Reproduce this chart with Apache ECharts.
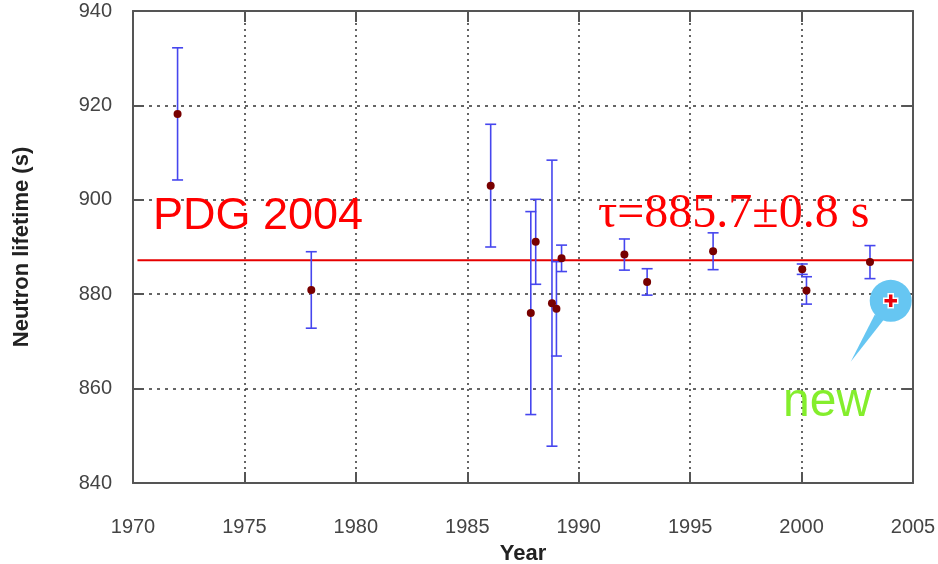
<!DOCTYPE html>
<html>
<head>
<meta charset="utf-8">
<script src="https://cdn.jsdelivr.net/npm/echarts@6/dist/echarts.min.js"></script>
<style>
  html, body { margin: 0; padding: 0; background: #fff; }
  #chart { width: 938px; height: 564px; }
</style>
</head>
<body>
<div id="chart"></div>
<script>
// measurements (year, lifetime, error)
const years = [1972.0, 1978.0, 1986.05, 1987.85, 1988.07, 1988.8, 1989.0, 1989.23, 1992.05, 1993.07, 1996.03, 2000.03, 2000.22, 2003.07];
const lifetimes = [918.2, 880.9, 903.0, 876.0, 891.1, 878.1, 876.9, 887.6, 888.4, 882.6, 889.1, 885.3, 880.8, 886.8];
const errors = [14.0, 8.1, 13.0, 21.5, 9.0, 30.3, 10.0, 2.8, 3.3, 2.8, 3.9, 1.1, 2.9, 3.5];

// new result
const newYear = [2004.0];
const newValue = [878.6];

// PDG 2004 average line
const pdgYears = [1970.2, 2005];
const pdgValue = [887.2];

const xTicks = [1970, 1975, 1980, 1985, 1990, 1995, 2000, 2005];
const yTicks = [840, 860, 880, 900, 920, 940];

const chart = echarts.init(document.getElementById("chart"));

const pointData = years.map((y, i) => [y, lifetimes[i]]);
const errData = years.map((y, i) => [y, lifetimes[i] - errors[i], lifetimes[i] + errors[i]]);

const tickStyle = { show: true, inside: true, length: 11, lineStyle: { color: "#555", width: 2 } };
const lineStyleAxis = { show: true, lineStyle: { color: "#555", width: 2 } };

const option = {
  animation: false,
  grid: { left: 133, right: 25, top: 11, bottom: 81, show: false, outerBoundsMode: "none", containLabel: false },
  xAxis: [
    {
      type: "value",
      min: xTicks[0],
      max: xTicks[xTicks.length - 1],
      interval: 5,
      name: "Year",
      nameLocation: "middle",
      nameGap: 60,
      nameTextStyle: { fontFamily: "Liberation Sans", fontWeight: "bold", fontSize: 22, color: "#222" },
      axisLine: lineStyleAxis,
      axisTick: tickStyle,
      axisLabel: { margin: 34, fontFamily: "Liberation Sans", fontSize: 20, color: "#444", formatter: (v) => String(v) },
      splitLine: { show: true, lineStyle: { color: "#333", type: [2, 4], width: 1.5 } }
    },
    {
      type: "value",
      position: "top",
      min: xTicks[0],
      max: xTicks[xTicks.length - 1],
      interval: 5,
      axisLine: lineStyleAxis,
      axisTick: tickStyle,
      axisLabel: { show: false },
      splitLine: { show: false }
    }
  ],
  yAxis: [
    {
      type: "value",
      min: yTicks[0],
      max: yTicks[yTicks.length - 1],
      interval: 20,
      name: "Neutron lifetime (s)",
      nameLocation: "middle",
      nameGap: 100,
      nameTextStyle: { fontFamily: "Liberation Sans", fontWeight: "bold", fontSize: 22, color: "#222" },
      axisLine: lineStyleAxis,
      axisTick: tickStyle,
      axisLabel: { margin: 21, fontFamily: "Liberation Sans", fontSize: 20, color: "#444" },
      splitLine: { show: true, lineStyle: { color: "#333", type: [3, 5], width: 1.5 } }
    },
    {
      type: "value",
      position: "right",
      min: yTicks[0],
      max: yTicks[yTicks.length - 1],
      interval: 20,
      axisLine: lineStyleAxis,
      axisTick: tickStyle,
      axisLabel: { show: false },
      splitLine: { show: false }
    }
  ],
  series: [
    {
      // PDG line
      type: "line",
      data: pdgYears.map((y) => [y, pdgValue[0]]),
      symbol: "none",
      lineStyle: { color: "#e60000", width: 2 },
      z: 3
    },
    {
      // error bars
      type: "custom",
      data: errData,
      renderItem: function (params, api) {
        const x = api.value(0);
        const lo = api.coord([x, api.value(1)]);
        const hi = api.coord([x, api.value(2)]);
        const hw = 5.5;
        const st = { stroke: "#4646ee", lineWidth: 1.6 };
        return {
          type: "group",
          children: [
            { type: "line", shape: { x1: lo[0], y1: lo[1], x2: hi[0], y2: hi[1] }, style: st },
            { type: "line", shape: { x1: lo[0] - hw, y1: lo[1], x2: lo[0] + hw, y2: lo[1] }, style: st },
            { type: "line", shape: { x1: hi[0] - hw, y1: hi[1], x2: hi[0] + hw, y2: hi[1] }, style: st }
          ]
        };
      },
      z: 4
    },
    {
      type: "scatter",
      data: pointData,
      symbol: "circle",
      symbolSize: 8,
      itemStyle: { color: "#780000", opacity: 1 },
      z: 5
    },
    {
      // new result bubble
      type: "custom",
      data: newYear.map((y, i) => [y, newValue[i]]),
      renderItem: function (params, api) {
        const c = api.coord([api.value(0), api.value(1)]);
        const cx = c[0], cy = c[1];
        const blue = "#66c6f2";
        return {
          type: "group",
          children: [
            {
              type: "polygon",
              shape: { points: [[cx - 16, cy + 14], [cx - 7, cy + 19], [cx - 40, cy + 61]] },
              style: { fill: blue }
            },
            { type: "circle", shape: { cx: cx, cy: cy, r: 21 }, style: { fill: blue } },
            {
              type: "polygon",
              shape: {
                points: [
                  [cx - 2.5, cy - 7], [cx + 2.5, cy - 7], [cx + 2.5, cy - 2.5], [cx + 7, cy - 2.5],
                  [cx + 7, cy + 2.5], [cx + 2.5, cy + 2.5], [cx + 2.5, cy + 7], [cx - 2.5, cy + 7],
                  [cx - 2.5, cy + 2.5], [cx - 7, cy + 2.5], [cx - 7, cy - 2.5], [cx - 2.5, cy - 2.5]
                ]
              },
              style: { fill: "#e8000a", stroke: "#fff", lineWidth: 1.5 }
            }
          ]
        };
      },
      z: 6
    }
  ],
  graphic: [
    {
      type: "text",
      style: {
        x: 153, y: 217, text: "PDG 2004", verticalAlign: "middle",
        font: "45px 'Liberation Sans'", fill: "#ff0000"
      },
      z: 10
    },
    {
      type: "text",
      style: {
        x: 598, y: 214, text: "τ=885.7±0.8 s", verticalAlign: "middle",
        font: "48px 'Liberation Serif'", fill: "#ff0000"
      },
      z: 10
    },
    {
      type: "text",
      style: {
        x: 783, y: 403, text: "new", verticalAlign: "middle",
        font: "48px 'Liberation Sans'", fill: "#84ee2c"
      },
      z: 10
    }
  ]
};

chart.setOption(option);

window.addEventListener("resize", function () {
  chart.resize();
});
</script>
</body>
</html>
